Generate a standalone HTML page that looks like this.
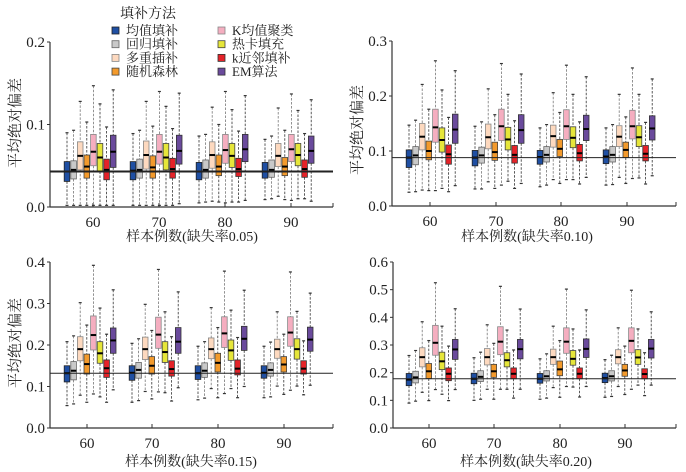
<!DOCTYPE html>
<html><head><meta charset="utf-8">
<style>
html,body{margin:0;padding:0;background:#fff;}
svg{display:block;}
text{font-family:"Liberation Serif","Noto Serif CJK SC","Noto Sans CJK SC",serif;fill:#222;}
</style></head>
<body>
<svg id="chart" width="686" height="472" viewBox="0 0 686 472">
  <g id="legend">
    <text x="120" y="18" font-size="14">填补方法</text>
  </g>
</svg>
<script>
const methods = ["均值填补","回归填补","多重插补","随机森林","K均值聚类","热卡填充","k近邻填补","EM算法"];
const colors = ["#1f4fa3","#c9c9c9","#fdd9bf","#f39a2c","#f5aec0","#e6e63a","#e52329","#6a4a9c"];
const borders = ["#222","#666","#888","#444","#888","#444","#333","#333"];
const groups = ["60","70","80","90"];
const yTicks1 = ["0.0","0.1","0.2"];
const yTicks2 = ["0.0","0.1","0.2","0.3"];
const yTicks3 = ["0.0","0.1","0.2","0.3","0.4"];
const yTicks4 = ["0.0","0.1","0.2","0.3","0.4","0.5","0.6"];
const refValues = [0.043, 0.088, 0.132, 0.178];
const xTitles = ["样本例数(缺失率0.05)","样本例数(缺失率0.10)","样本例数(缺失率0.15)","样本例数(缺失率0.20)"];
// [min, q1, median, q3, max] per group per method
const stats005 = [
 [[0.002,0.031,0.043,0.055,0.090],[0.002,0.034,0.045,0.056,0.093],[0.002,0.045,0.062,0.079,0.128],[0.002,0.035,0.049,0.063,0.103],[0.002,0.050,0.067,0.088,0.147],[0.002,0.043,0.060,0.077,0.125],[0.002,0.033,0.045,0.058,0.097],[0.002,0.048,0.067,0.087,0.142]],
 [[0.002,0.033,0.044,0.055,0.089],[0.002,0.035,0.045,0.058,0.093],[0.002,0.046,0.063,0.080,0.128],[0.002,0.035,0.048,0.062,0.098],[0.002,0.052,0.067,0.088,0.140],[0.002,0.045,0.060,0.077,0.122],[0.002,0.035,0.046,0.059,0.095],[0.004,0.052,0.068,0.087,0.138]],
 [[0.005,0.033,0.043,0.054,0.086],[0.006,0.035,0.045,0.057,0.088],[0.007,0.047,0.063,0.079,0.121],[0.006,0.038,0.049,0.063,0.100],[0.005,0.053,0.069,0.088,0.140],[0.006,0.048,0.062,0.077,0.118],[0.006,0.037,0.046,0.059,0.092],[0.008,0.055,0.070,0.088,0.135]],
 [[0.009,0.035,0.043,0.054,0.082],[0.010,0.036,0.045,0.057,0.086],[0.013,0.049,0.062,0.077,0.120],[0.009,0.038,0.049,0.060,0.093],[0.008,0.055,0.070,0.088,0.137],[0.010,0.050,0.063,0.077,0.117],[0.010,0.036,0.046,0.057,0.089],[0.007,0.053,0.068,0.086,0.130]]
];
const stats010 = [
 [[0.025,0.070,0.088,0.102,0.147],[0.026,0.075,0.092,0.108,0.156],[0.029,0.102,0.126,0.150,0.221],[0.028,0.084,0.100,0.118,0.176],[0.028,0.116,0.143,0.176,0.264],[0.032,0.098,0.120,0.142,0.211],[0.026,0.076,0.094,0.111,0.161],[0.037,0.114,0.139,0.167,0.246]],
 [[0.031,0.073,0.088,0.101,0.145],[0.031,0.078,0.092,0.107,0.153],[0.044,0.104,0.125,0.149,0.213],[0.032,0.083,0.098,0.116,0.166],[0.038,0.119,0.145,0.176,0.259],[0.045,0.102,0.121,0.143,0.203],[0.032,0.078,0.093,0.110,0.155],[0.041,0.114,0.138,0.166,0.240]],
 [[0.035,0.076,0.089,0.101,0.142],[0.038,0.080,0.093,0.108,0.148],[0.048,0.107,0.127,0.147,0.206],[0.041,0.090,0.104,0.121,0.170],[0.048,0.121,0.145,0.175,0.256],[0.048,0.106,0.124,0.144,0.203],[0.040,0.082,0.096,0.112,0.153],[0.052,0.119,0.140,0.165,0.235]],
 [[0.038,0.077,0.090,0.102,0.142],[0.039,0.080,0.093,0.108,0.148],[0.052,0.108,0.126,0.146,0.203],[0.041,0.088,0.102,0.116,0.162],[0.050,0.122,0.145,0.174,0.251],[0.051,0.108,0.125,0.146,0.203],[0.040,0.082,0.095,0.110,0.152],[0.055,0.120,0.141,0.164,0.231]]
];
const stats015 = [
 [[0.054,0.111,0.132,0.150,0.208],[0.058,0.116,0.138,0.160,0.222],[0.079,0.162,0.190,0.220,0.302],[0.062,0.130,0.154,0.178,0.248],[0.082,0.188,0.224,0.270,0.392],[0.075,0.156,0.180,0.208,0.289],[0.062,0.122,0.144,0.164,0.226],[0.092,0.180,0.211,0.241,0.333]],
 [[0.062,0.115,0.133,0.150,0.204],[0.066,0.120,0.140,0.158,0.215],[0.088,0.165,0.190,0.219,0.298],[0.070,0.130,0.150,0.172,0.235],[0.087,0.192,0.225,0.267,0.382],[0.085,0.158,0.183,0.208,0.280],[0.065,0.125,0.142,0.162,0.220],[0.097,0.180,0.208,0.242,0.328]],
 [[0.068,0.117,0.132,0.150,0.197],[0.072,0.122,0.138,0.157,0.208],[0.095,0.167,0.190,0.217,0.290],[0.073,0.135,0.157,0.180,0.242],[0.083,0.194,0.228,0.268,0.378],[0.095,0.163,0.187,0.212,0.284],[0.073,0.128,0.143,0.164,0.218],[0.100,0.187,0.215,0.245,0.332]],
 [[0.073,0.120,0.133,0.150,0.197],[0.075,0.125,0.140,0.157,0.207],[0.101,0.168,0.190,0.214,0.280],[0.081,0.135,0.153,0.172,0.226],[0.091,0.197,0.230,0.268,0.376],[0.101,0.166,0.190,0.215,0.281],[0.080,0.130,0.143,0.162,0.210],[0.103,0.185,0.213,0.243,0.325]]
];
const stats020 = [
 [[0.090,0.153,0.175,0.197,0.262],[0.097,0.163,0.183,0.205,0.280],[0.129,0.221,0.256,0.290,0.384],[0.099,0.179,0.205,0.233,0.316],[0.139,0.263,0.308,0.371,0.525],[0.122,0.211,0.241,0.274,0.368],[0.099,0.171,0.196,0.217,0.296],[0.139,0.248,0.284,0.320,0.431]],
 [[0.100,0.160,0.178,0.198,0.254],[0.104,0.168,0.185,0.207,0.274],[0.140,0.228,0.256,0.287,0.373],[0.104,0.183,0.205,0.230,0.306],[0.140,0.265,0.312,0.366,0.512],[0.140,0.221,0.245,0.272,0.354],[0.108,0.178,0.196,0.217,0.282],[0.140,0.250,0.285,0.320,0.430]],
 [[0.104,0.162,0.178,0.197,0.250],[0.108,0.170,0.187,0.207,0.268],[0.146,0.230,0.256,0.285,0.368],[0.111,0.189,0.212,0.242,0.316],[0.150,0.270,0.312,0.362,0.502],[0.148,0.227,0.250,0.280,0.358],[0.112,0.178,0.196,0.217,0.282],[0.150,0.255,0.286,0.322,0.427]],
 [[0.111,0.164,0.180,0.198,0.247],[0.114,0.170,0.187,0.207,0.263],[0.150,0.232,0.256,0.283,0.362],[0.121,0.187,0.208,0.230,0.296],[0.140,0.272,0.315,0.362,0.498],[0.155,0.230,0.255,0.283,0.358],[0.117,0.178,0.195,0.214,0.272],[0.155,0.253,0.287,0.320,0.420]]
];

const NS = "http://www.w3.org/2000/svg";
const svg = document.getElementById("chart");
function mk(tag, attrs, parent){
  const e = document.createElementNS(NS, tag);
  for (const k in attrs) e.setAttribute(k, attrs[k]);
  (parent||svg).appendChild(e);
  return e;
}

// legend
const legend = document.getElementById("legend");
methods.forEach((m,i)=>{
  const col = i<4 ? 0 : 1, row = i%4;
  const sx = col ? 218 : 112, sy = 27 + row*13.7;
  const g = mk("g", {}, legend);
  
  
  mk("rect", {x:sx, y:sy, width:7, height:7, fill:colors[i], stroke:borders[i], "stroke-width":0.8}, g);
  const t = mk("text", {x:sx+14, y:sy+8, "font-size":13}, g);
  t.textContent = m;
});

const panels = [
  {stats:stats005, ticks:yTicks1, x0:50, x1:333, y0:207, yT:42, vmax:0.2, gx:[93,159,225,291], off:-26, ref:refValues[0], refW:2, xt:xTitles[0], xtX:192, xtY:241, yt:true, ytX:20, ytY:123},
  {stats:stats010, ticks:yTicks2, x0:392, x1:676, y0:206, yT:41, vmax:0.3, gx:[430,496,561,627], off:-21, ref:refValues[1], refW:1, xt:xTitles[1], xtX:527, xtY:241, yt:true, ytX:362, ytY:130},
  {stats:stats015, ticks:yTicks3, x0:50, x1:333, y0:428, yT:262, vmax:0.4, gx:[87,152,218,284], off:-20, ref:refValues[2], refW:1, xt:xTitles[2], xtX:191, xtY:466, yt:true, ytX:20, ytY:343},
  {stats:stats020, ticks:yTicks4, x0:393, x1:676, y0:428, yT:262, vmax:0.6, gx:[429,494,560,625], off:-20, ref:refValues[3], refW:1, xt:xTitles[3], xtX:526, xtY:466, yt:false}
];

panels.forEach((p,pi)=>{
  const G = mk("g", {});
  
  
  const ys = v => p.y0 - (v/p.vmax)*(p.y0-p.yT);
  // axes
  const ya = mk("line", {x1:p.x0, y1:p.yT, x2:p.x0, y2:p.y0, stroke:"#333", "stroke-width":1.2}, G);
  
  
  const xa = mk("line", {x1:p.x0, y1:p.y0, x2:p.x1, y2:p.y0, stroke:"#333", "stroke-width":1.2}, G);
  
  
  mk("line", {x1:p.x1, y1:p.y0, x2:p.x1, y2:p.y0-4, stroke:"#333"}, G);
  p.ticks.forEach(t=>{
    const y = ys(parseFloat(t));
    mk("line", {x1:p.x0-3, y1:y, x2:p.x0, y2:y, stroke:"#333"}, G);
    const tx = mk("text", {x:p.x0-5, y:y+5, "font-size":15, "text-anchor":"end"}, G);
    
    
    tx.textContent = t;
  });
  groups.forEach((gname,gi)=>{
    const gx = p.gx[gi];
    mk("line", {x1:gx, y1:p.y0, x2:gx, y2:p.y0-4, stroke:"#333"}, G);
    const tx = mk("text", {x:gx, y:p.y0+20, "font-size":15, "text-anchor":"middle"}, G);
    
    
    tx.textContent = gname;
    p.stats[gi].forEach((s,mi)=>{
      const cx = gx + p.off + mi*6.6;
      const bw = 5.6;
      const bg = mk("g", {}, G);
      
      
      const wc = (mi===1||mi===2||mi===4) ? "#777" : "#333";
      mk("line", {x1:cx, y1:ys(s[4]), x2:cx, y2:ys(s[3]), stroke:wc, "stroke-width":0.8, "stroke-dasharray":"2.5,1.5"}, bg);
      mk("line", {x1:cx, y1:ys(s[1]), x2:cx, y2:ys(s[0]), stroke:wc, "stroke-width":0.8, "stroke-dasharray":"2.5,1.5"}, bg);
      mk("line", {x1:cx-1.5, y1:ys(s[4]), x2:cx+1.5, y2:ys(s[4]), stroke:"#333", "stroke-width":1.2}, bg);
      mk("line", {x1:cx-1.5, y1:ys(s[0]), x2:cx+1.5, y2:ys(s[0]), stroke:"#333", "stroke-width":1.2}, bg);
      mk("rect", {x:cx-bw/2, y:ys(s[3]), width:bw, height:ys(s[1])-ys(s[3]), fill:colors[mi], stroke:borders[mi], "stroke-width":0.8}, bg);
      mk("line", {x1:cx-bw/2, y1:ys(s[2]), x2:cx+bw/2, y2:ys(s[2]), stroke:"#000", "stroke-width":2}, bg);
    });
  });
  const rl = mk("line", {x1:p.x0, y1:ys(p.ref), x2:p.x1, y2:ys(p.ref), stroke:"#222", "stroke-width":p.refW}, G);
  
  
  const xt = mk("text", {x:p.xtX, y:p.xtY, "font-size":14, "text-anchor":"middle"}, G);
  
  
  xt.textContent = p.xt;
  if (p.yt){
    const yt = mk("text", {x:p.ytX, y:p.ytY, "font-size":15, "text-anchor":"middle", transform:"rotate(-90 "+p.ytX+" "+p.ytY+")"}, G);
    
    
    yt.textContent = "平均绝对偏差";
  }
});
</script>
</body></html>
